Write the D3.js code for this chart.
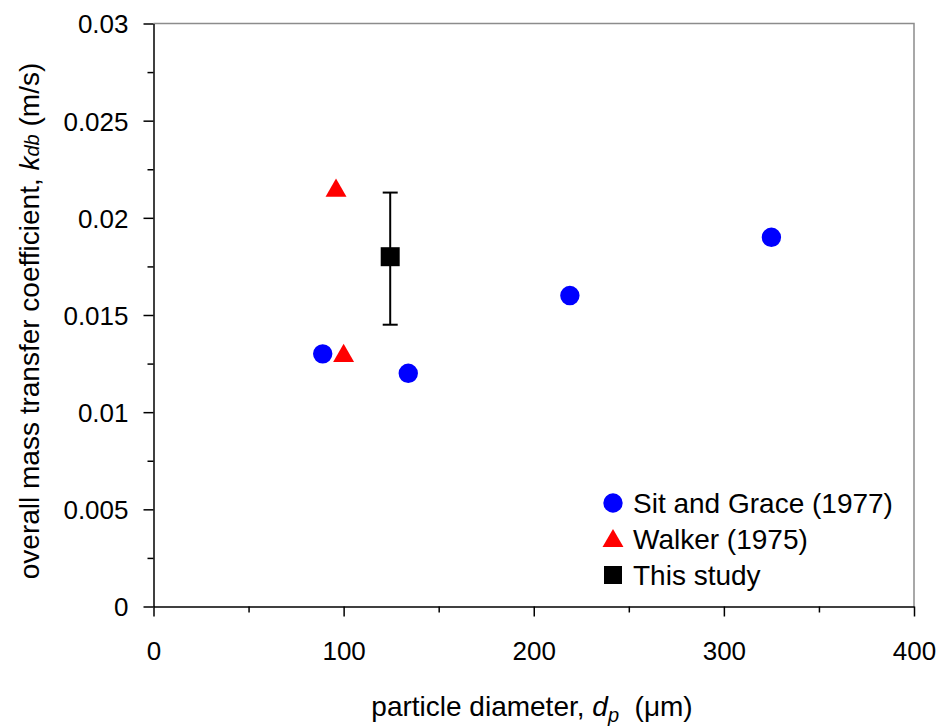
<!DOCTYPE html>
<meta charset="utf-8">
<style>
body { margin: 0; background: #fff; }
svg { font-family: Arial, "Liberation Sans", sans-serif; }
.tick text { font-size: 26px; fill: #000; }
.lbl { font-size: 28px; fill: #000; }
</style>
<svg width="942" height="728"></svg>
<script src="https://d3js.org/d3.v7.min.js"></script>
<script>
// values
var sitX = [89, 134, 219, 325];
var sitY = [0.013, 0.012, 0.016, 0.019];
var walkerX = [96, 100];
var walkerY = [0.0215, 0.013];
var studyX = [124.5];
var studyY = [0.018];
var studyHi = [0.0213];
var studyLo = [0.0145];
var xTicks = [0, 100, 200, 300, 400];
var yTicks = [0, 0.005, 0.01, 0.015, 0.02, 0.025, 0.03];
var legendNames = ["Sit and Grace (1977)", "Walker (1975)", "This study"];

var svg = d3.select("svg");
var plotL = 153.5, plotR = 914, plotT = 23.5, plotB = 606.5;

var x = d3.scaleLinear().domain([0, 400]).range([plotL, plotR]);
var y = d3.scaleLinear().domain([0, 0.03]).range([plotB, plotT]);

// plot frame (grey top and right)
svg.append("path")
    .attr("d", "M" + plotL + "," + plotT + "H" + plotR + "V" + plotB)
    .attr("fill", "none").attr("stroke", "#8c8c8c").attr("stroke-width", 1.5);

// minor ticks
var xMinor = d3.range(50, 400, 100);
var yMinor = d3.range(0.0025, 0.03, 0.005);
svg.append("g").attr("transform", "translate(0," + plotB + ")")
    .call(d3.axisBottom(x).tickValues(xMinor).tickSize(6).tickFormat(""))
    .call(function(g) { g.select(".domain").remove(); });
svg.append("g").attr("transform", "translate(" + plotL + ",0)")
    .call(d3.axisLeft(y).tickValues(yMinor).tickSize(6).tickFormat(""))
    .call(function(g) { g.select(".domain").remove(); });

// major axes
var xAxis = svg.append("g").attr("transform", "translate(0," + plotB + ")")
    .call(d3.axisBottom(x).tickValues(xTicks).tickSize(10).tickSizeOuter(0).tickPadding(25).tickFormat(d3.format("d")));
var yAxis = svg.append("g").attr("transform", "translate(" + plotL + ",0)")
    .call(d3.axisLeft(y).tickValues(yTicks).tickSize(10).tickSizeOuter(0).tickPadding(15)
        .tickFormat(function(d) { return d === 0 ? "0" : String(+d.toFixed(4)); }));
svg.selectAll(".tick line, .domain").attr("stroke", "#000").attr("stroke-width", 1.5);
xAxis.selectAll(".tick text").attr("dy", "0.71em");
yAxis.selectAll(".tick text").attr("dy", "0.36em");

// error bar for this study
var ebar = svg.append("g").attr("stroke", "#000").attr("stroke-width", 2);
studyX.forEach(function(d, i) {
    ebar.append("line").attr("x1", x(d)).attr("x2", x(d)).attr("y1", y(studyHi[i])).attr("y2", y(studyLo[i]));
    ebar.append("line").attr("x1", x(d) - 7.5).attr("x2", x(d) + 7.5).attr("y1", y(studyHi[i])).attr("y2", y(studyHi[i]));
    ebar.append("line").attr("x1", x(d) - 7.5).attr("x2", x(d) + 7.5).attr("y1", y(studyLo[i])).attr("y2", y(studyLo[i]));
});

var circle = d3.symbol().type(d3.symbolCircle).size(Math.PI * 9.7 * 9.7);
var tri = d3.symbol().type(d3.symbolTriangle).size(190);
var sq = d3.symbol().type(d3.symbolSquare).size(19 * 19);

svg.selectAll(".sit").data(sitX).enter().append("path")
    .attr("d", circle).attr("fill", "#0000ff")
    .attr("transform", function(d, i) { return "translate(" + x(d) + "," + y(sitY[i]) + ")"; });
svg.selectAll(".walker").data(walkerX).enter().append("path")
    .attr("d", tri).attr("fill", "#ff0000")
    .attr("transform", function(d, i) { return "translate(" + x(d) + "," + (y(walkerY[i]) + 2) + ")"; });
svg.selectAll(".study").data(studyX).enter().append("path")
    .attr("d", sq).attr("fill", "#000")
    .attr("transform", function(d, i) { return "translate(" + x(d) + "," + y(studyY[i]) + ")"; });

// legend
var legSyms = [
    {d: circle, fill: "#0000ff", dy: 0},
    {d: tri, fill: "#ff0000", dy: 2},
    {d: d3.symbol().type(d3.symbolSquare).size(18 * 18), fill: "#000", dy: 0}
];
var leg = svg.append("g").attr("transform", "translate(613,503)");
legendNames.forEach(function(name, i) {
    var row = leg.append("g").attr("transform", "translate(0," + (i * 36) + ")");
    row.append("path").attr("d", legSyms[i].d).attr("fill", legSyms[i].fill)
        .attr("transform", "translate(0," + legSyms[i].dy + ")");
    row.append("text").attr("class", "lbl").attr("x", 20).attr("dy", "0.36em").text(name);
});

// axis titles
var xt = svg.append("text").attr("class", "lbl").attr("text-anchor", "middle")
    .attr("x", 532).attr("y", 716);
xt.append("tspan").text("particle diameter, ");
xt.append("tspan").attr("font-style", "italic").text("d");
xt.append("tspan").attr("font-style", "italic").attr("font-size", "20px").attr("dy", 6).text("p");
xt.append("tspan").attr("dy", -6).text("\u00a0 (\u03bcm)");

var yt = svg.append("text").attr("class", "lbl").attr("text-anchor", "middle")
    .attr("transform", "translate(39,321) rotate(-90)");
yt.append("tspan").text("overall mass transfer coefficient, ");
yt.append("tspan").attr("font-style", "italic").text("k");
yt.append("tspan").attr("font-style", "italic").attr("font-size", "20px").text("db");
yt.append("tspan").text(" (m/s)");
</script>
